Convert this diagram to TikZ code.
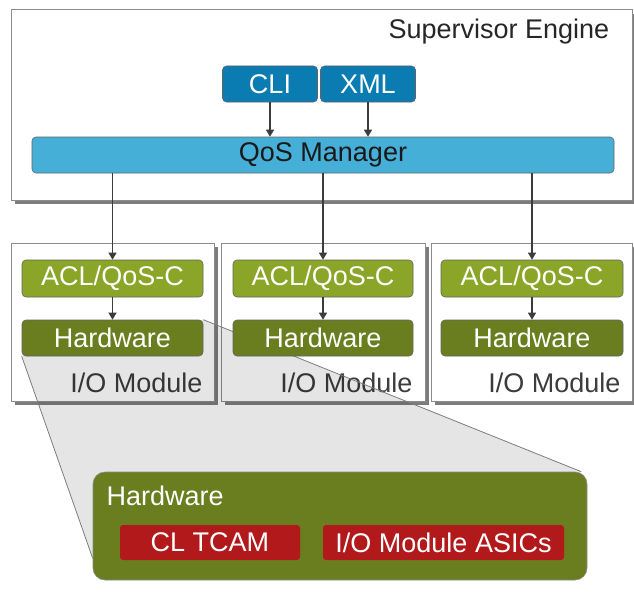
\documentclass[tikz,border=0pt]{standalone}
\usepackage{fontspec}
\setmainfont{Liberation Sans}
\usetikzlibrary{arrows.meta,shadows}
\definecolor{cliblue}{RGB}{10,124,178}
\definecolor{qosblue}{RGB}{70,175,215}
\definecolor{aclgreen}{RGB}{139,165,40}
\definecolor{hwgreen}{RGB}{106,125,31}
\definecolor{tcamred}{RGB}{178,25,27}
\definecolor{framegray}{RGB}{140,140,140}
\definecolor{shadegray}{RGB}{125,125,125}
\definecolor{inkgray}{RGB}{60,60,60}
\pgfdeclarelayer{back}
\pgfdeclarelayer{mid}
\pgfsetlayers{back,mid,main}
\begin{document}
\begin{tikzpicture}[x=1pt, y=-1pt, line width=1pt,
  txt/.style={font=\fontsize{27}{30}\selectfont},
  frame/.style={draw=framegray, fill=white, inner sep=0pt,
    drop shadow={shadow xshift=4pt, shadow yshift=-4pt, fill=shadegray, opacity=1}},
  blk/.style={txt, draw=inkgray!80, line width=0.6pt, rounded corners=4pt, inner sep=0pt, text=white},
  flow/.style={draw=inkgray, line width=1.2pt, -{Triangle[width=8pt,length=7pt]}}]
  \useasboundingbox (0,0) rectangle (634,594);
  % 슈퍼바이저
  \node[frame, minimum width=621, minimum height=190] (sup) at (321.5,105) {};
  \node[txt, anchor=east, text=black!85] (suplbl) at (613,32) {Supervisor Engine};
  \node[blk, fill=cliblue, minimum width=95, minimum height=36] (cli) at (270,84) {CLI};
  \node[blk, fill=cliblue, minimum width=95, minimum height=36] (xml) at (368,84) {XML};
  \node[blk, fill=qosblue, text=black!90, minimum width=582, minimum height=36] (qos) at (323,155) {QoS Manager};
  \draw[flow] (cli) -- (cli |- qos.north);
  \draw[flow] (xml) -- (xml |- qos.north);
  % 모듈
  \begin{pgfonlayer}{back}
    \node[frame, minimum width=203, minimum height=158] (mod1) at (112.5,322) {};
    \node[frame, minimum width=204, minimum height=158] (mod2) at (323,322) {};
    \node[frame, minimum width=201, minimum height=158] (mod3) at (531.5,322) {};
    \node[txt, anchor=east, text=inkgray] (iom1) at (206,383) {I/O Module};
    \node[txt, anchor=east, text=inkgray] (iom2) at (416,383) {I/O Module};
    \node[txt, anchor=east, text=inkgray] (iom3) at (624,383) {I/O Module};
  \end{pgfonlayer}
  \node[blk, fill=aclgreen, minimum width=181, minimum height=37] (acl1) at (112.5,278.5) {ACL/QoS-C};
  \node[blk, fill=aclgreen, minimum width=180, minimum height=37] (acl2) at (323,278.5) {ACL/QoS-C};
  \node[blk, fill=aclgreen, minimum width=182, minimum height=37] (acl3) at (532,278.5) {ACL/QoS-C};
  \node[blk, fill=hwgreen, minimum width=181, minimum height=36] (hw1) at (112.5,338) {Hardware};
  \node[blk, fill=hwgreen, minimum width=180, minimum height=36] (hw2) at (323,338) {Hardware};
  \node[blk, fill=hwgreen, minimum width=182, minimum height=36] (hw3) at (532,338) {Hardware};
  \draw[flow] (qos.south -| acl1.north) -- (acl1.north);
  \draw[flow] (qos.south -| acl2.north) -- (acl2.north);
  \draw[flow] (qos.south -| acl3.north) -- (acl3.north);
  \draw[flow] (acl1) -- (hw1);
  \draw[flow] (acl2) -- (hw2);
  \draw[flow] (acl3) -- (hw3);
  % 확대
  \node[blk, fill=hwgreen, draw=framegray, rounded corners=12pt, minimum width=494, minimum height=108] (big) at (340,526) {};
  \node[txt, anchor=west, text=white] (biglbl) at (103,496) {Hardware};
  \node[blk, fill=tcamred, draw=none, rounded corners=3pt, minimum width=180, minimum height=35] (tcam) at (210,542.5) {CL TCAM};
  \node[blk, fill=tcamred, draw=none, rounded corners=3pt, minimum width=241, minimum height=35] (asic) at (443.5,542.5) {I/O Module ASICs};
  \coordinate (bigsw) at ([yshift=22pt]big.south west);
  \coordinate (bigne) at ([xshift=-6pt]big.north east);
  \begin{pgfonlayer}{mid}
    \fill[black, fill opacity=0.1] (hw1.south west) -- (hw1.north east) -- (bigne) -- (bigsw) -- cycle;
    \draw[shadegray, line width=0.8pt] (hw1.south west) -- (bigsw);
    \draw[shadegray, line width=0.8pt] (hw1.north east) -- (bigne);
  \end{pgfonlayer}
\end{tikzpicture}
\end{document}
